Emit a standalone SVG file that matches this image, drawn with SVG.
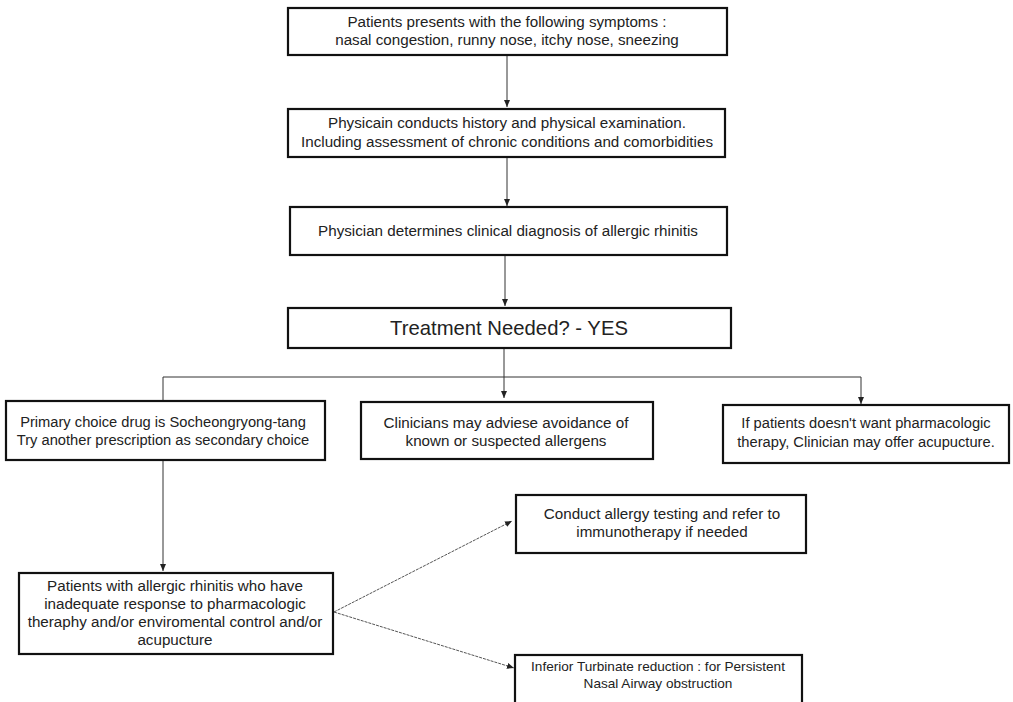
<svg xmlns="http://www.w3.org/2000/svg" width="1013" height="702" viewBox="0 0 1013 702">
<style>
.box{fill:#fff;stroke:#111;stroke-width:2.2}
.t{font-family:"Liberation Sans",Arial,sans-serif;font-size:15.2px;fill:#222;text-anchor:middle}
.big{font-size:20.3px}
.sm{font-size:14.7px}
.xs{font-size:13.6px}
.c{fill:none;stroke:#333;stroke-width:1}
.d{fill:none;stroke:#555;stroke-width:1;stroke-dasharray:3 1}
</style>
<defs>
<marker id="ah" markerWidth="8" markerHeight="8" refX="7" refY="4" orient="auto" markerUnits="userSpaceOnUse">
<path d="M0,1 L7,4 L0,7 Z" fill="#222"/>
</marker>
</defs>
<rect width="1013" height="702" fill="#fff"/>
<g id="connectors">
<line class="c" x1="507" y1="56" x2="507" y2="107" marker-end="url(#ah)"/>
<line class="c" x1="507" y1="158" x2="507" y2="206" marker-end="url(#ah)"/>
<line class="c" x1="505" y1="256" x2="505" y2="306" marker-end="url(#ah)"/>
<line class="c" x1="504" y1="349" x2="504" y2="398" marker-end="url(#ah)"/>
<polyline class="c" points="163,400 163,377 861,377 861,404" marker-end="url(#ah)"/>
<line class="c" x1="163" y1="461" x2="163" y2="571" marker-end="url(#ah)"/>
<line class="d" x1="334" y1="612" x2="512" y2="521" marker-end="url(#ah)"/>
<line class="d" x1="334" y1="612" x2="514" y2="668" marker-end="url(#ah)"/>
</g>
<g id="n1"><rect class="box" x="288" y="8" width="439" height="47"/>
<text class="t" x="507" y="27">Patients presents with the following symptoms :</text>
<text class="t" x="507" y="45">nasal congestion, runny nose, itchy nose, sneezing</text></g>
<g id="n2"><rect class="box" x="288" y="109" width="437" height="48"/>
<text class="t" x="507" y="128">Physicain conducts history and physical examination.</text>
<text class="t" x="507" y="147">Including assessment of chronic conditions and comorbidities</text></g>
<g id="n3"><rect class="box" x="290" y="207" width="437" height="48"/>
<text class="t" x="508" y="236">Physician determines clinical diagnosis of allergic rhinitis</text></g>
<g id="n4"><rect class="box" x="288" y="308" width="443" height="40"/>
<text class="t big" x="509" y="335">Treatment Needed? - YES</text></g>
<g id="n5"><rect class="box" x="6" y="401" width="319" height="59"/>
<text class="t sm" x="163" y="427">Primary choice drug is Socheongryong-tang</text>
<text class="t sm" x="163" y="445">Try another prescription as secondary choice</text></g>
<g id="n6"><rect class="box" x="361" y="402" width="292" height="57"/>
<text class="t" x="506" y="428">Clinicians may adviese avoidance of</text>
<text class="t" x="506" y="446">known or suspected allergens</text></g>
<g id="n7"><rect class="box" x="723" y="405" width="286" height="58"/>
<text class="t sm" x="866" y="428">If patients doesn't want pharmacologic</text>
<text class="t sm" x="866" y="447">therapy, Clinician may offer acupucture.</text></g>
<g id="n8"><rect class="box" x="19" y="573" width="314" height="81"/>
<text class="t" x="175" y="591">Patients with allergic rhinitis who have</text>
<text class="t" x="175" y="609">inadequate response to pharmacologic</text>
<text class="t" x="175" y="627">theraphy and/or enviromental control and/or</text>
<text class="t" x="175" y="645">acupucture</text></g>
<g id="n9"><rect class="box" x="516" y="495" width="290" height="58"/>
<text class="t" x="662" y="519">Conduct allergy testing and refer to</text>
<text class="t" x="662" y="537">immunotherapy if needed</text></g>
<g id="n10"><rect class="box" x="515" y="655" width="287" height="60"/>
<text class="t xs" x="658" y="671">Inferior Turbinate reduction : for Persistent</text>
<text class="t xs" x="658" y="688">Nasal Airway obstruction</text></g>
</svg>
